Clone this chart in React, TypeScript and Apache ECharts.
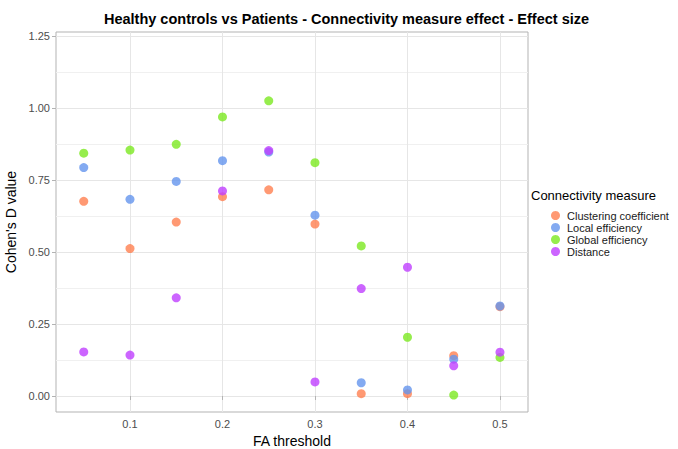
import React, { useEffect, useRef } from "react";
import * as echarts from "echarts";

const thresholds = [0.05, 0.1, 0.15, 0.2, 0.25, 0.3, 0.35, 0.4, 0.45, 0.5];
const clustering = [0.676, 0.512, 0.604, 0.692, 0.716, 0.597, 0.008, 0.008, 0.14, 0.31];
const localEff = [0.793, 0.683, 0.745, 0.817, 0.847, 0.628, 0.046, 0.021, 0.128, 0.3125];
const globalEff = [0.843, 0.854, 0.874, 0.969, 1.025, 0.81, 0.521, 0.204, 0.003, 0.134];
const distance = [0.153, 0.142, 0.341, 0.712, 0.852, 0.049, 0.373, 0.447, 0.105, 0.152];

const seriesNames = ["Clustering coefficient", "Local efficiency", "Global efficiency", "Distance"];
const seriesValues = [clustering, localEff, globalEff, distance];
const seriesColors = ["#FF7F50", "#6495ED", "#7CE820", "#BF3EFF"];

const xTicks = [0.1, 0.2, 0.3, 0.4, 0.5];
const yTicks = [0, 0.25, 0.5, 0.75, 1.0, 1.25];
const yMinor = [0.125, 0.375, 0.625, 0.875, 1.125];

const FONT = "'Liberation Sans', Arial, sans-serif";

export default function App() {
  const ref = useRef<HTMLDivElement>(null);
  useEffect(() => {
    if (!ref.current) return;
    const chart = echarts.init(ref.current, null, { renderer: "svg" });
    const gridLine = { show: true, lineStyle: { color: "#e6e6e6", width: 1 } };
    chart.setOption({
      animation: false,
      textStyle: { fontFamily: FONT },
      title: [
        {
          text: "Healthy controls vs Patients - Connectivity measure effect - Effect size",
          left: 341.5,
          top: 6,
          textAlign: "center",
          textStyle: { fontSize: 14.5, fontWeight: "bold", color: "#000", fontFamily: FONT },
        },
        {
          text: "Connectivity measure",
          left: 526,
          top: 184,
          textStyle: { fontSize: 13, fontWeight: "normal", color: "#000", fontFamily: FONT },
        },
      ],
      legend: {
        orient: "vertical",
        left: 546,
        top: 205,
        icon: "circle",
        itemWidth: 13,
        itemHeight: 9,
        itemGap: 1,
        textStyle: { fontSize: 11, color: "#1a1a1a", lineHeight: 9, fontFamily: FONT },
        data: seriesNames,
      },
      grid: {
        left: 56,
        top: 32,
        right: 150,
        bottom: 37,
        outerBoundsMode: "none",
        containLabel: false,
        show: true,
        borderColor: "#b3b3b3",
        borderWidth: 1,
        backgroundColor: "transparent",
      },
      xAxis: {
        type: "value",
        min: 0.02,
        max: 0.5303,
        name: "FA threshold",
        nameLocation: "middle",
        nameGap: 22,
        nameTextStyle: { fontSize: 14, color: "#000", fontFamily: FONT },
        axisLine: { show: false },
        axisTick: { show: true, length: 4, lineStyle: { color: "#b3b3b3" }, customValues: xTicks },
        axisLabel: {
          color: "#4d4d4d",
          fontSize: 11,
          margin: 6,
          customValues: xTicks,
          formatter: (v: number) => String(Math.round(v * 10) / 10),
        },
        splitLine: gridLine,
      },
      yAxis: [
        {
          type: "value",
          min: -0.0556,
          max: 1.2639,
          name: "Cohen's D value",
          nameLocation: "middle",
          nameGap: 36,
          nameTextStyle: { fontSize: 14, color: "#000", fontFamily: FONT },
          axisLine: { show: false },
          axisTick: { show: true, length: 4, lineStyle: { color: "#b3b3b3" }, customValues: yTicks },
          axisLabel: {
            color: "#4d4d4d",
            fontSize: 11,
            margin: 6,
            customValues: yTicks,
            formatter: (v: number) => v.toFixed(2),
          },
          splitLine: gridLine,
        },
        {
          type: "value",
          min: -0.0556,
          max: 1.2639,
          position: "left",
          axisLine: { show: false },
          axisTick: { show: false, customValues: yMinor },
          axisLabel: { show: false, customValues: yMinor },
          splitLine: { show: true, lineStyle: { color: "#f0f0f0", width: 1 } },
        },
      ],
      series: seriesNames.map((name, i) => ({
        name,
        type: "scatter",
        yAxisIndex: 0,
        symbol: "circle",
        symbolSize: 9,
        itemStyle: { color: seriesColors[i], opacity: 0.8 },
        emphasis: { disabled: true },
        data: thresholds.map((t, j) => [t, seriesValues[i][j]]),
      })),
    });
    return () => chart.dispose();
  }, []);
  return <div ref={ref} style={{ width: 678, height: 449, position: "absolute", left: 0, top: 0 }} />;
}
